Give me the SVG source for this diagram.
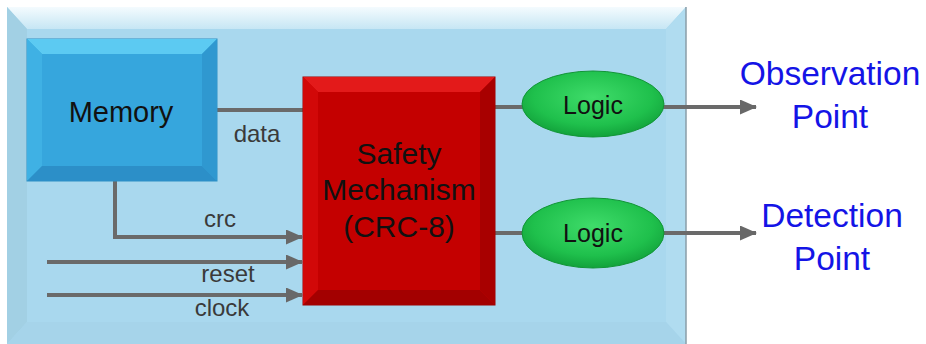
<svg xmlns="http://www.w3.org/2000/svg" width="926" height="344" viewBox="0 0 926 344">
  <defs>
    <linearGradient id="panelTop" x1="0" y1="0" x2="0" y2="1">
      <stop offset="0" stop-color="#f4fbfe"/>
      <stop offset="1" stop-color="#c6e6f4"/>
    </linearGradient>
    <radialGradient id="logicFill" cx="0.5" cy="0.4" r="0.6">
      <stop offset="0" stop-color="#3fdc6a"/>
      <stop offset="0.7" stop-color="#1fc04c"/>
      <stop offset="1" stop-color="#12a23b"/>
    </radialGradient>
    <marker id="arrow" viewBox="0 0 17 15" refX="16" refY="7.5" markerWidth="17" markerHeight="15" markerUnits="userSpaceOnUse" orient="auto">
      <path d="M0,0 L17,7.5 L0,15 Z" fill="#686868"/>
    </marker>
  </defs>
  <style>
    .wire { stroke: #6a6a6a; stroke-width: 4; fill: none; }
    .lbl { font-family: "Liberation Sans", Arial, sans-serif; font-size: 24px; fill: #3a3a3a; text-anchor: middle; }
    .big { font-family: "Liberation Sans", Arial, sans-serif; fill: #111; text-anchor: middle; }
    .point { font-family: "Liberation Sans", Arial, sans-serif; font-size: 33.5px; fill: #1414e6; text-anchor: middle; }
  </style>

  <rect width="926" height="344" fill="#ffffff"/>

  <!-- enclosing bevelled panel -->
  <g id="panel">
    <rect x="7" y="7" width="679" height="337" fill="#a9d8ee"/>
    <polygon points="7,7 686,7 666,29 27,29" fill="url(#panelTop)"/>
    <polygon points="7,7 27,29 27,322 7,344" fill="#a2d0e4"/>
    <polygon points="686,7 686,344 666,322 666,29" fill="#b0dcf0"/>
    <polygon points="7,344 27,322 666,322 686,344" fill="#a6d4ea"/>
    <line x1="686" y1="7" x2="686" y2="344" stroke="#8a9ea8" stroke-width="1.5"/>
  </g>

  <!-- connectors -->
  <g id="connectors">
    <line class="wire" x1="217" y1="110" x2="303" y2="110"/>
    <polyline class="wire" points="115,181 115,237 302,237" marker-end="url(#arrow)"/>
    <line class="wire" x1="47" y1="262" x2="302" y2="262" marker-end="url(#arrow)"/>
    <line class="wire" x1="47" y1="295" x2="302" y2="295" marker-end="url(#arrow)"/>
    <line class="wire" x1="495" y1="107" x2="523" y2="107"/>
    <line class="wire" x1="495" y1="233" x2="523" y2="233"/>
    <line class="wire" x1="663" y1="107" x2="756" y2="107" marker-end="url(#arrow)"/>
    <line class="wire" x1="663" y1="233" x2="756" y2="233" marker-end="url(#arrow)"/>
    <text class="lbl" x="257" y="142">data</text>
    <text class="lbl" x="220" y="227">crc</text>
    <text class="lbl" x="228" y="282">reset</text>
    <text class="lbl" x="222" y="316">clock</text>
  </g>

  <!-- memory block -->
  <g id="memory">
    <rect x="27" y="39" width="190" height="142" fill="#36a6dd" stroke="#2f8fc4" stroke-width="1"/>
    <polygon points="27,39 217,39 202,54 42,54" fill="#5ccaf2"/>
    <polygon points="27,39 42,54 42,166 27,181" fill="#3fb1e4"/>
    <polygon points="217,39 217,181 202,166 202,54" fill="#2f98d0"/>
    <polygon points="27,181 42,166 202,166 217,181" fill="#2c8fc8"/>
    <text class="big" x="121" y="122" font-size="29" fill="#0d1a2a">Memory</text>
  </g>

  <!-- safety mechanism block -->
  <g id="safety">
    <rect x="303" y="77" width="192" height="228" fill="#c40000" stroke="#9a0000" stroke-width="1"/>
    <polygon points="303,77 495,77 480,92 318,92" fill="#e31a1a"/>
    <polygon points="303,77 318,92 318,290 303,305" fill="#d20808"/>
    <polygon points="495,77 495,305 480,290 480,92" fill="#a80000"/>
    <polygon points="303,305 318,290 480,290 495,305" fill="#a30000"/>
    <text class="big" x="399" y="164" font-size="30">Safety</text>
    <text class="big" x="399" y="200" font-size="30">Mechanism</text>
    <text class="big" x="399" y="237" font-size="30">(CRC-8)</text>
  </g>

  <!-- logic stages -->
  <g id="logic1">
    <ellipse cx="593" cy="104" rx="71" ry="33" fill="url(#logicFill)" stroke="#119536" stroke-width="1"/>
    <text class="big" x="593" y="114" font-size="25">Logic</text>
  </g>
  <g id="logic2">
    <ellipse cx="593" cy="233" rx="71" ry="35" fill="url(#logicFill)" stroke="#119536" stroke-width="1"/>
    <text class="big" x="593" y="242" font-size="25">Logic</text>
  </g>

  <!-- output points -->
  <g id="observation">
    <text class="point" x="830" y="85">Observation</text>
    <text class="point" x="830" y="128">Point</text>
  </g>
  <g id="detection">
    <text class="point" x="832" y="227">Detection</text>
    <text class="point" x="832" y="270">Point</text>
  </g>
</svg>
